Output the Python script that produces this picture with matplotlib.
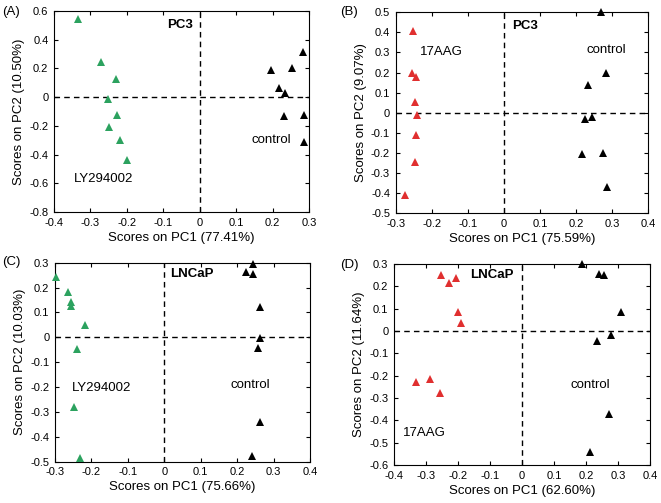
import matplotlib.pyplot as plt
import numpy as np

plt.rcParams['font.family'] = ['Liberation Sans', 'DejaVu Sans']

GREEN = '#2ca25f'
RED = '#e02f2f'

# Panel A: PC3, LY294002 vs control
a_trt_x = [-0.334, -0.270, -0.229, -0.253, -0.227, -0.248, -0.219, -0.201]
a_trt_y = [0.542, 0.244, 0.123, -0.010, -0.121, -0.209, -0.300, -0.435]
a_ctl_x = [0.194, 0.253, 0.283, 0.216, 0.233, 0.230, 0.287, 0.287]
a_ctl_y = [0.188, 0.205, 0.312, 0.065, 0.026, -0.128, -0.121, -0.309]

# Panel B: PC3, 17AAG vs control
b_trt_x = [-0.253, -0.254, -0.244, -0.246, -0.240, -0.244, -0.246, -0.275]
b_trt_y = [0.405, 0.197, 0.176, 0.051, -0.013, -0.109, -0.245, -0.411]
b_ctl_x = [0.269, 0.283, 0.234, 0.224, 0.244, 0.217, 0.275, 0.286]
b_ctl_y = [0.502, 0.196, 0.136, -0.033, -0.020, -0.204, -0.199, -0.370]

# Panel C: LNCaP, LY294002 vs control
c_trt_x = [-0.296, -0.264, -0.257, -0.257, -0.217, -0.240, -0.249, -0.230]
c_trt_y = [0.244, 0.184, 0.143, 0.127, 0.048, -0.047, -0.279, -0.484]
c_ctl_x = [0.244, 0.224, 0.243, 0.263, 0.262, 0.256, 0.262, 0.242]
c_ctl_y = [0.295, 0.263, 0.255, 0.123, -0.003, -0.043, -0.340, -0.477]

# Panel D: LNCaP, 17AAG vs control
d_trt_x = [-0.254, -0.229, -0.206, -0.199, -0.190, -0.331, -0.286, -0.256]
d_trt_y = [0.252, 0.215, 0.239, 0.083, 0.038, -0.229, -0.217, -0.276]
d_ctl_x = [0.189, 0.240, 0.257, 0.309, 0.278, 0.236, 0.273, 0.212]
d_ctl_y = [0.301, 0.255, 0.251, 0.086, -0.020, -0.044, -0.373, -0.542]

panels = [
    dict(tag='(A)', rect=[0.0817, 0.5785, 0.386, 0.3996], color=GREEN,
         trt=(a_trt_x, a_trt_y), ctl=(a_ctl_x, a_ctl_y),
         xlim=(-0.4, 0.3), ylim=(-0.8, 0.6), ystep=0.2,
         xlabel='Scores on PC1 (77.41%)', ylabel='Scores on PC2 (10.50%)',
         cell=('PC3', -0.055, 0.50), trt_lab=('LY294002', -0.265, -0.567),
         ctl_lab=('control', 0.197, -0.30), tagpos=(0.003, 0.976)),
    dict(tag='(B)', rect=[0.5986, 0.5765, 0.3817, 0.399], color=RED,
         trt=(b_trt_x, b_trt_y), ctl=(b_ctl_x, b_ctl_y),
         xlim=(-0.3, 0.4), ylim=(-0.5, 0.5), ystep=0.1,
         xlabel='Scores on PC1 (75.59%)', ylabel='Scores on PC2 (9.07%)',
         cell=('PC3', 0.058, 0.43), trt_lab=('17AAG', -0.172, 0.30),
         ctl_lab=('control', 0.285, 0.31), tagpos=(0.515, 0.976)),
    dict(tag='(C)', rect=[0.0832, 0.0821, 0.3858, 0.3956], color=GREEN,
         trt=(c_trt_x, c_trt_y), ctl=(c_ctl_x, c_ctl_y),
         xlim=(-0.3, 0.4), ylim=(-0.5, 0.3), ystep=0.1,
         xlabel='Scores on PC1 (75.66%)', ylabel='Scores on PC2 (10.03%)',
         cell=('LNCaP', 0.075, 0.255), trt_lab=('LY294002', -0.173, -0.205),
         ctl_lab=('control', 0.235, -0.19), tagpos=(0.003, 0.479)),
    dict(tag='(D)', rect=[0.596, 0.0755, 0.3873, 0.3996], color=RED,
         trt=(d_trt_x, d_trt_y), ctl=(d_ctl_x, d_ctl_y),
         xlim=(-0.4, 0.4), ylim=(-0.6, 0.3), ystep=0.1,
         xlabel='Scores on PC1 (62.60%)', ylabel='Scores on PC2 (11.64%)',
         cell=('LNCaP', -0.093, 0.25), trt_lab=('17AAG', -0.304, -0.455),
         ctl_lab=('control', 0.215, -0.24), tagpos=(0.515, 0.474)),
]

fig = plt.figure(figsize=(6.61, 5.03), dpi=100)

for p in panels:
    ax = fig.add_axes(p['rect'])
    ax.axhline(0, color='black', linestyle='--', linewidth=1, dashes=(4, 3), zorder=1)
    ax.axvline(0, color='black', linestyle='--', linewidth=1, dashes=(4, 3), zorder=1)
    ax.plot(*p['trt'], '^', color=p['color'], markersize=5.5, markeredgewidth=0,
            zorder=3, clip_on=False)
    ax.plot(*p['ctl'], '^', color='black', markersize=5.5, markeredgewidth=0,
            zorder=3, clip_on=False)

    ax.set_xlim(*p['xlim'])
    ax.set_ylim(*p['ylim'])
    ax.set_xticks(np.round(np.arange(p['xlim'][0], p['xlim'][1] + 1e-9, 0.1), 2))
    ax.set_yticks(np.round(np.arange(p['ylim'][0], p['ylim'][1] + 1e-9, p['ystep']), 2))
    ax.xaxis.set_major_formatter(plt.FuncFormatter(lambda v, _: '0' if abs(v) < 1e-9 else f'{v:g}'))
    ax.yaxis.set_major_formatter(plt.FuncFormatter(lambda v, _: '0' if abs(v) < 1e-9 else f'{v:g}'))
    ax.tick_params(direction='in', length=3, width=0.8, labelsize=8,
                   top=True, right=True, pad=4)
    for s in ax.spines.values():
        s.set_linewidth(0.8)

    ax.set_xlabel(p['xlabel'], fontsize=9.5, labelpad=3)
    ax.set_ylabel(p['ylabel'], fontsize=9.5, labelpad=3)

    name, x, y = p['cell']
    ax.text(x, y, name, fontsize=9.5, fontweight='bold', ha='center', va='center')
    name, x, y = p['trt_lab']
    ax.text(x, y, name, fontsize=9.5, ha='center', va='center')
    name, x, y = p['ctl_lab']
    ax.text(x, y, name, fontsize=9.5, ha='center', va='center')

    fig.text(p['tagpos'][0], p['tagpos'][1], p['tag'], fontsize=9.5, ha='left', va='center')

fig.savefig('out.png', dpi=100)
